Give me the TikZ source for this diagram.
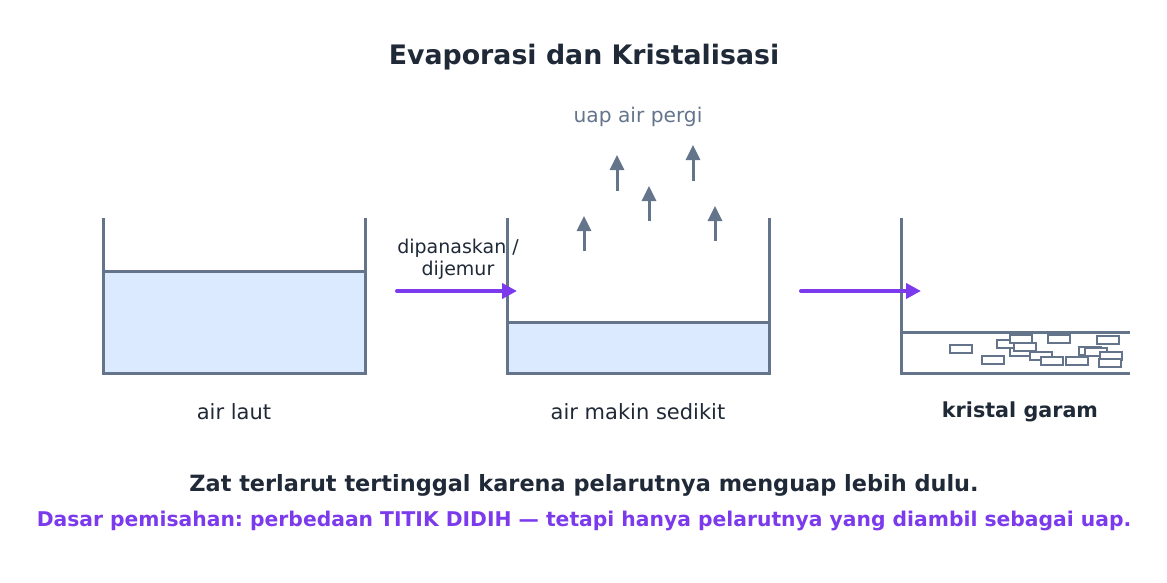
\documentclass[tikz,border=0pt]{standalone}
\usepackage{fontspec}
\setmainfont{DejaVu Sans}
\usetikzlibrary{arrows.meta, positioning}
\definecolor{slategray}{HTML}{64748B}
\definecolor{inkdark}{HTML}{1F2937}
\definecolor{waterblue}{HTML}{DBEAFE}
\definecolor{violetmain}{HTML}{7C3AED}
\frenchspacing

\begin{document}
\begin{tikzpicture}[x=1pt, y=-1pt,
    wall/.style={slategray, line width=3pt},
    flow/.style={violetmain, line width=4pt, line cap=round, -{Triangle[length=15pt,width=15pt]}},
    vapor/.style={slategray, line width=3pt, -{Triangle[length=15pt,width=14pt]}},
    lbl/.style={inkdark, font=\fontsize{21}{25}\selectfont},
    crystal/.style={slategray, line width=1.5pt, fill=white}]
  \useasboundingbox (0,0) rectangle (1167,583);
  \node[inkdark, font=\bfseries\fontsize{26.8}{31}\selectfont] (title) at (584,57) {Evaporasi dan Kristalisasi};

  % beaker 1: air laut
  \fill[waterblue] (103,271) rectangle (365,373);
  \draw[wall] (103,271) -- (365,271);
  \draw[wall] (103,218) -- (103,373) -- (365,373) -- (365,218);
  \node[lbl] (sea) at (234,412) {air laut};

  % beaker 2: air makin sedikit
  \fill[waterblue] (507,322) rectangle (769,373);
  \draw[wall] (507,322) -- (769,322);
  \draw[wall] (507,218) -- (507,373) -- (769,373) -- (769,218);
  \node[lbl] (less) at (638,412) {air makin sedikit};

  % vapour leaving
  \foreach \x/\ya/\yb in {584/251/216, 617/191/155, 649/221/186, 693/181/145, 715/241/206}{
    \draw[vapor] (\x,\ya) -- (\x,\yb);
  }
  \node[slategray, font=\fontsize{20.2}{24}\selectfont] (steam) at (638,117) {uap air pergi};

  % tray 3: kristal garam
  \draw[wall] (901,332) -- (1130,332);
  \draw[wall] (901,218) -- (901,373) -- (1130,373);
  \foreach \cx/\cy in {950/345, 982/356, 997/340, 1010/348, 1014/343, 1010/335,
      1030/352, 1041/357, 1048/335, 1066/357, 1079/347, 1085/348, 1097/336, 1100/352, 1099/359}{
    \draw[crystal] (\cx,\cy) rectangle ++(22,8);
  }
  \node[inkdark, font=\bfseries\fontsize{20.7}{25}\selectfont] (salt) at (1020,412) {kristal garam};

  % process arrows
  \coordinate (heat-start) at (397,291);
  \coordinate (heat-end) at (517,291);
  \coordinate (dry-start) at (801,291);
  \coordinate (dry-end) at (921,291);
  \draw[flow] (heat-start) -- (heat-end);
  \draw[flow] (dry-start) -- (dry-end);
  \node[inkdark, align=center, font=\fontsize{19}{22}\selectfont] (heat) at (458,259) {dipanaskan /\\dijemur};

  % notes
  \node[inkdark, font=\bfseries\fontsize{22.4}{27}\selectfont] (note) at (584,485)
    {Zat terlarut tertinggal karena pelarutnya menguap lebih dulu.};
  \node[violetmain, font=\bfseries\fontsize{20.3}{24}\selectfont] (basis) at (584,521)
    {Dasar pemisahan: perbedaan TITIK DIDIH — tetapi hanya pelarutnya yang diambil sebagai uap.};
\end{tikzpicture}
\end{document}
